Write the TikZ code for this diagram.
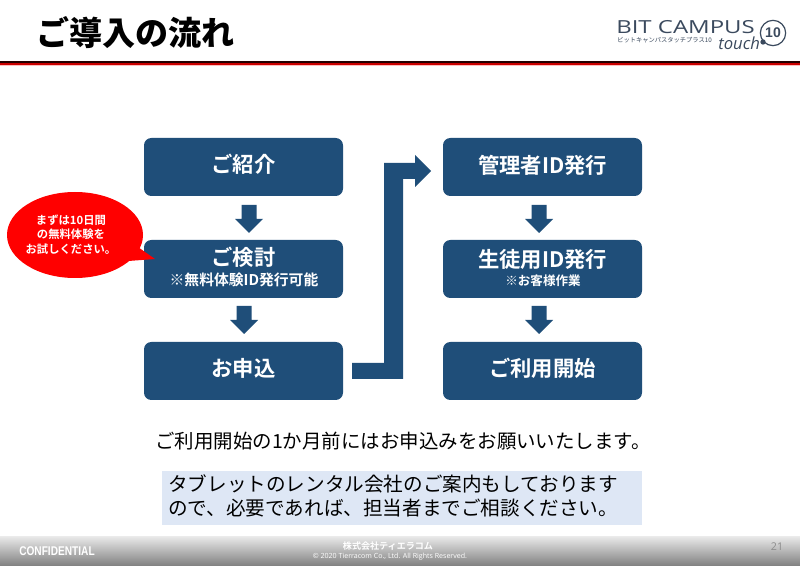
\documentclass[tikz,border=0pt]{standalone}
\usepackage{fontspec}
\setmainfont{Noto Sans CJK JP}
\newfontfamily\jp{Noto Sans CJK JP}
\newfontfamily\jpb{Noto Sans CJK JP Bold}
\newfontfamily\jpk{Noto Sans CJK JP Black}
\newfontfamily\lat{Open Sans}
\newfontfamily\latb{Liberation Sans Bold}
\usetikzlibrary{positioning,shapes.geometric}
\definecolor{navy}{HTML}{1F4E79}
\definecolor{inkb}{HTML}{3B4A5E}
\definecolor{paleb}{HTML}{DEE7F5}
\newcommand{\downarrowat}[1]{\fill[navy] (#1) ++(-7.5,0) -- ++(15,0) -- ++(0,14) -- ++(6.5,0) -- ++(-14,14) -- ++(-14,-14) -- ++(6.5,0) -- cycle;}
\tikzset{
  x=0.75pt,y=-0.75pt,
  stagebox/.style={fill=navy,rounded corners=5.5pt,minimum width=149.25pt,minimum height=43.5pt,inner sep=0pt},
  label/.style={inner sep=0pt,text=white,align=center},
  big/.style={font=\jpb\fontsize{16}{19}\selectfont},
  small/.style={font=\jpb\fontsize{11.1}{12}\selectfont},
  smaller/.style={font=\jpb\fontsize{9.4}{11}\selectfont},
  body/.style={font=\jp\fontsize{14.6}{18}\selectfont,anchor=west,inner sep=0pt,text=black},
}
\begin{document}
\begin{tikzpicture}
\useasboundingbox (0,0) rectangle (800,566);
\fill[white] (0,0) rectangle (800,566);
% header
\node[anchor=west,inner sep=0pt,font=\jpk\fontsize{24.8}{28}\selectfont] (title) at (36,33) {ご導入の流れ};
\fill[black!75!red!60!black] (0,61.5) rectangle (800,63.3);
\fill[red!80!black] (0,63.3) rectangle (800,64.6);
\fill[red!25] (0,64.6) rectangle (800,65.6);
% logo
\node[anchor=west,inner sep=0pt,text=inkb,font=\lat\fontsize{13.5}{14}\selectfont] (logo) at (616,27) {\scalebox{1.33}[1]{BIT CAMPUS}};
\node[anchor=west,inner sep=0pt,text=inkb,font=\jp\fontsize{4.7}{5}\selectfont] (logosub) at (617,40) {ビットキャンパスタッチプラス10};
\node[anchor=west,inner sep=0pt,text=inkb,font=\lat\itshape\fontsize{12.5}{13}\selectfont] (touch) at (718,43) {touch};
\node[circle,draw=inkb,line width=0.9pt,minimum size=19pt,inner sep=0pt,text=inkb,font=\latb\fontsize{10.5}{11}\selectfont] (ten) at (773,33) {10};
\node[circle,fill=inkb,minimum size=4pt,inner sep=0pt] (dot) at (763,42) {};
% left column
\node[stagebox] (a1) at (243.5,167) {};
\node[label,big] (a1t) at (243.5,164) {ご紹介};
\node[stagebox] (a2) at (243.5,269) {};
\node[label,big] (a2t) at (243.5,257.5) {ご検討};
\node[label,small] (a2s) at (244,280) {※無料体験ID発行可能};
\node[stagebox] (a3) at (243.5,371) {};
\node[label,big] (a3t) at (243.5,368) {お申込};
% right column
\node[stagebox] (b1) at (542.5,167) {};
\node[label,big] (b1t) at (542.5,165) {管理者ID発行};
\node[stagebox] (b2) at (542.5,269) {};
\node[label,big] (b2t) at (542.5,259.5) {生徒用ID発行};
\node[label,smaller] (b2s) at (543,281) {※お客様作業};
\node[stagebox] (b3) at (542.5,371) {};
\node[label,big] (b3t) at (542.5,368) {ご利用開始};
% block arrows
\coordinate (d1) at (249,205);
\coordinate (d2) at (244,306);
\coordinate (d3) at (539,205);
\coordinate (d4) at (539,306);
\downarrowat{d1}
\downarrowat{d2}
\downarrowat{d3}
\downarrowat{d4}
\fill[navy] (352,363) -- (384,363) -- (384,163) -- (415,163) -- (415,155) -- (431,171) -- (415,187) -- (415,179) -- (403,179) -- (403,379) -- (352,379) -- cycle;
% callout
\fill[red] (75,235) ellipse [x radius=68,y radius=43];
\fill[red] (125,238) -- (155,259) -- (115,262) -- cycle;
\node[align=center,inner sep=0pt,text=white,font=\jpb\fontsize{8.5}{10.7}\selectfont] (call) at (71,234.5) {まずは10日間\\の無料体験を\\お試しください。};
% body
\node[body] (note) at (155,441) {ご利用開始の1か月前にはお申込みをお願いいたします。};
\node[fill=paleb,minimum width=360pt,minimum height=40.5pt,anchor=north west,inner sep=0pt] (panel) at (162,471) {};
\node[body,align=left,font=\jp\fontsize{14.7}{18}\selectfont] (rental) at (168,496) {タブレットのレンタル会社のご案内もしております\\ので、必要であれば、担当者までご相談ください。};
% footer
\shade[top color=black!8,bottom color=black!50] (0,536) rectangle (800,566);
\node[anchor=west,inner sep=0pt,text=white,font=\latb\fontsize{9.5}{10}\selectfont] (conf) at (19,551) {\scalebox{0.8}[1]{CONFIDENTIAL}};
\node[inner sep=0pt,text=white,font=\jpb\fontsize{6.8}{7}\selectfont] (co) at (388,546.5) {株式会社ティエラコム};
\node[inner sep=0pt,text=white,font=\lat\fontsize{5.3}{6}\selectfont] (copy) at (390,557) {© 2020  Tierracom Co., Ltd. All Rights Reserved.};
\node[inner sep=0pt,text=black!45,font=\lat\fontsize{8}{9}\selectfont] (page) at (777,547) {21};
\end{tikzpicture}
\end{document}
